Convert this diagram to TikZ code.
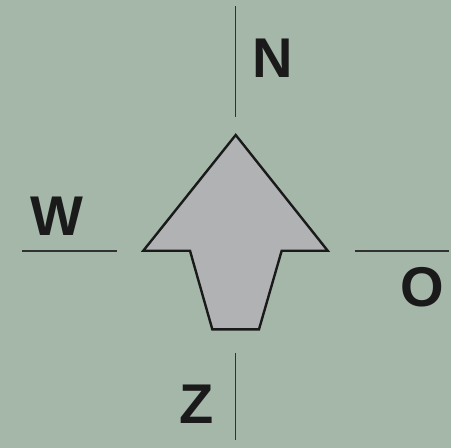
\documentclass[tikz,border=0pt]{standalone}
\usepackage{fontspec}
\setmainfont{Liberation Sans}
\definecolor{bg}{RGB}{164,183,169}
\definecolor{arrowfill}{RGB}{176,178,179}
\definecolor{ink}{RGB}{26,26,26}
\begin{document}
\begin{tikzpicture}[x=1pt,y=-1pt,
  axisline/.style={draw=ink!90,line width=1.8pt},
  dirlabel/.style={anchor=base,inner sep=0pt,text=ink,font=\fontsize{56}{56}\selectfont\bfseries}]
\fill[bg] (0,0) rectangle (451,448);
\useasboundingbox (0,0) rectangle (451,448);
% axis lines
\coordinate (n1) at (235.5,6);
\coordinate (n2) at (235.5,117);
\coordinate (z1) at (235.5,353);
\coordinate (z2) at (235.5,440);
\coordinate (w1) at (22,250.7);
\coordinate (w2) at (117,250.7);
\coordinate (o1) at (355,251);
\coordinate (o2) at (448.5,251);
\draw[axisline] (n1) -- (n2);
\draw[axisline] (z1) -- (z2);
\draw[axisline] (w1) -- (w2);
\draw[axisline] (o1) -- (o2);
% arrow
\draw[fill=arrowfill,draw=ink,line width=2.4pt,line join=miter]
  (235.7,135) -- (327.7,250.7) -- (281.7,250.7) -- (259,329.3) -- (212.3,329.3)
  -- (190,250.7) -- (143.3,250.7) -- cycle;
% labels
\node[dirlabel] (N) at (272.3,77.7) {N};
\node[dirlabel] (W) at (57,235) {W};
\node[dirlabel] (O) at (422.7,306) {O};
\node[dirlabel] (Z) at (196.2,423.3) {Z};
\end{tikzpicture}
\end{document}
